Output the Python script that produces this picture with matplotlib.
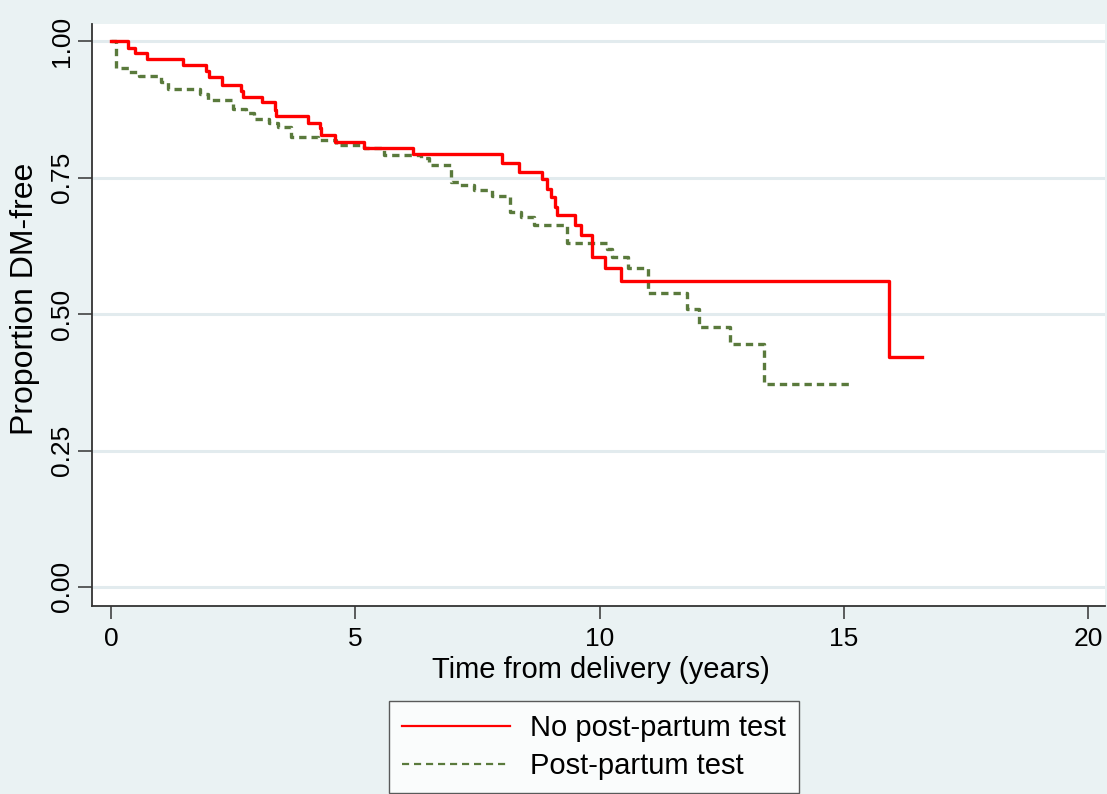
import numpy as np
import matplotlib
matplotlib.use("Agg")
import matplotlib.pyplot as plt
from matplotlib.lines import Line2D

plt.rcParams['font.family'] = ['Liberation Sans', 'DejaVu Sans']

# Kaplan-Meier estimates
t_no_test = [0, 0.34, 0.50, 0.73, 1.48, 1.94, 2.01, 2.28, 2.66, 2.69, 3.08, 3.35, 3.37,
             4.02, 4.27, 4.29, 4.59, 5.18, 6.17, 7.99, 8.35, 8.81, 8.93, 9.00, 9.08,
             9.12, 9.50, 9.61, 9.85, 10.10, 10.43, 15.92, 16.60]
s_no_test = [1.0, 0.988, 0.979, 0.968, 0.957, 0.946, 0.934, 0.921, 0.909, 0.898, 0.889,
             0.875, 0.863, 0.851, 0.841, 0.829, 0.816, 0.805, 0.793, 0.777, 0.761, 0.747,
             0.730, 0.715, 0.697, 0.681, 0.663, 0.645, 0.605, 0.584, 0.561, 0.422, 0.422]

t_test = [0, 0.10, 0.37, 0.58, 1.02, 1.16, 1.81, 1.98, 2.49, 2.76, 2.92, 3.23, 3.41,
          3.68, 4.23, 4.60, 5.18, 5.59, 6.34, 6.51, 6.95, 7.12, 7.42, 7.80, 8.17, 8.38,
          8.66, 9.34, 10.15, 10.26, 10.57, 10.98, 11.79, 12.03, 12.67, 13.36, 15.13]
s_test = [1.0, 0.951, 0.944, 0.936, 0.926, 0.913, 0.904, 0.892, 0.877, 0.868, 0.858,
          0.851, 0.843, 0.825, 0.819, 0.810, 0.805, 0.792, 0.786, 0.773, 0.742, 0.736,
          0.727, 0.716, 0.687, 0.678, 0.663, 0.631, 0.620, 0.604, 0.584, 0.539, 0.510,
          0.477, 0.446, 0.372, 0.372]

x_ticks = [0, 5, 10, 15, 20]
y_ticks = [0.00, 0.25, 0.50, 0.75, 1.00]
labels = ["No post-partum test", "Post-partum test"]

bg = "#EAF2F3"
red = "#FF0000"
green = "#5A7A3C"

fig = plt.figure(figsize=(11.07, 7.94), dpi=100, facecolor=bg)
ax = fig.add_axes([92 / 1107, 1 - 606 / 794, 1013 / 1107, 582 / 794])
ax.set_facecolor("white")

for yv in y_ticks:
    ax.axhline(yv, color="#E2EBEE", lw=2.2, zorder=0)

ax.step(t_no_test, s_no_test, where="post", color=red, lw=2.4, zorder=3)
ax.step(t_test, s_test, where="post", color=green, lw=2.4, dashes=(2.2, 1.5), zorder=2)

ax.set_xlim(-0.39, 20.34)
ax.set_ylim(-0.035, 1.032)
ax.set_xticks(x_ticks)
ax.set_xticklabels([str(v) for v in x_ticks], fontsize=19)
ax.set_yticks(y_ticks)
ax.set_yticklabels([f"{v:.2f}" for v in y_ticks], fontsize=19, rotation=90, va="center")
ax.tick_params(axis="x", length=9, width=1.1, pad=6, color="#333333")
ax.tick_params(axis="y", length=10, width=1.1, pad=3, color="#333333")

for side in ["top", "right"]:
    ax.spines[side].set_visible(False)
for side in ["left", "bottom"]:
    ax.spines[side].set_color("#333333")
    ax.spines[side].set_linewidth(1.3)

fig.text(601 / 1107, 1 - 678 / 794, "Time from delivery (years)", fontsize=21,
         ha="center", va="baseline")
fig.text(25 / 1107, 1 - 299 / 794, "Proportion DM-free", fontsize=23,
         rotation=90, ha="center", va="center")

handles = [Line2D([], [], color=red, lw=1.6),
           Line2D([], [], color=green, lw=1.6, dashes=(3.2, 2.2))]
leg = fig.legend(handles, labels, loc="upper left", bbox_to_anchor=(389 / 1107, 1 - 701 / 794),
                 fontsize=21, frameon=True, fancybox=False, borderaxespad=0,
                 borderpad=0.45, labelspacing=0.35, handlelength=3.7, handletextpad=0.68)
leg.get_frame().set_edgecolor("#333333")
leg.get_frame().set_linewidth(1.0)

fig.savefig("out.png", dpi=100, facecolor=bg)
